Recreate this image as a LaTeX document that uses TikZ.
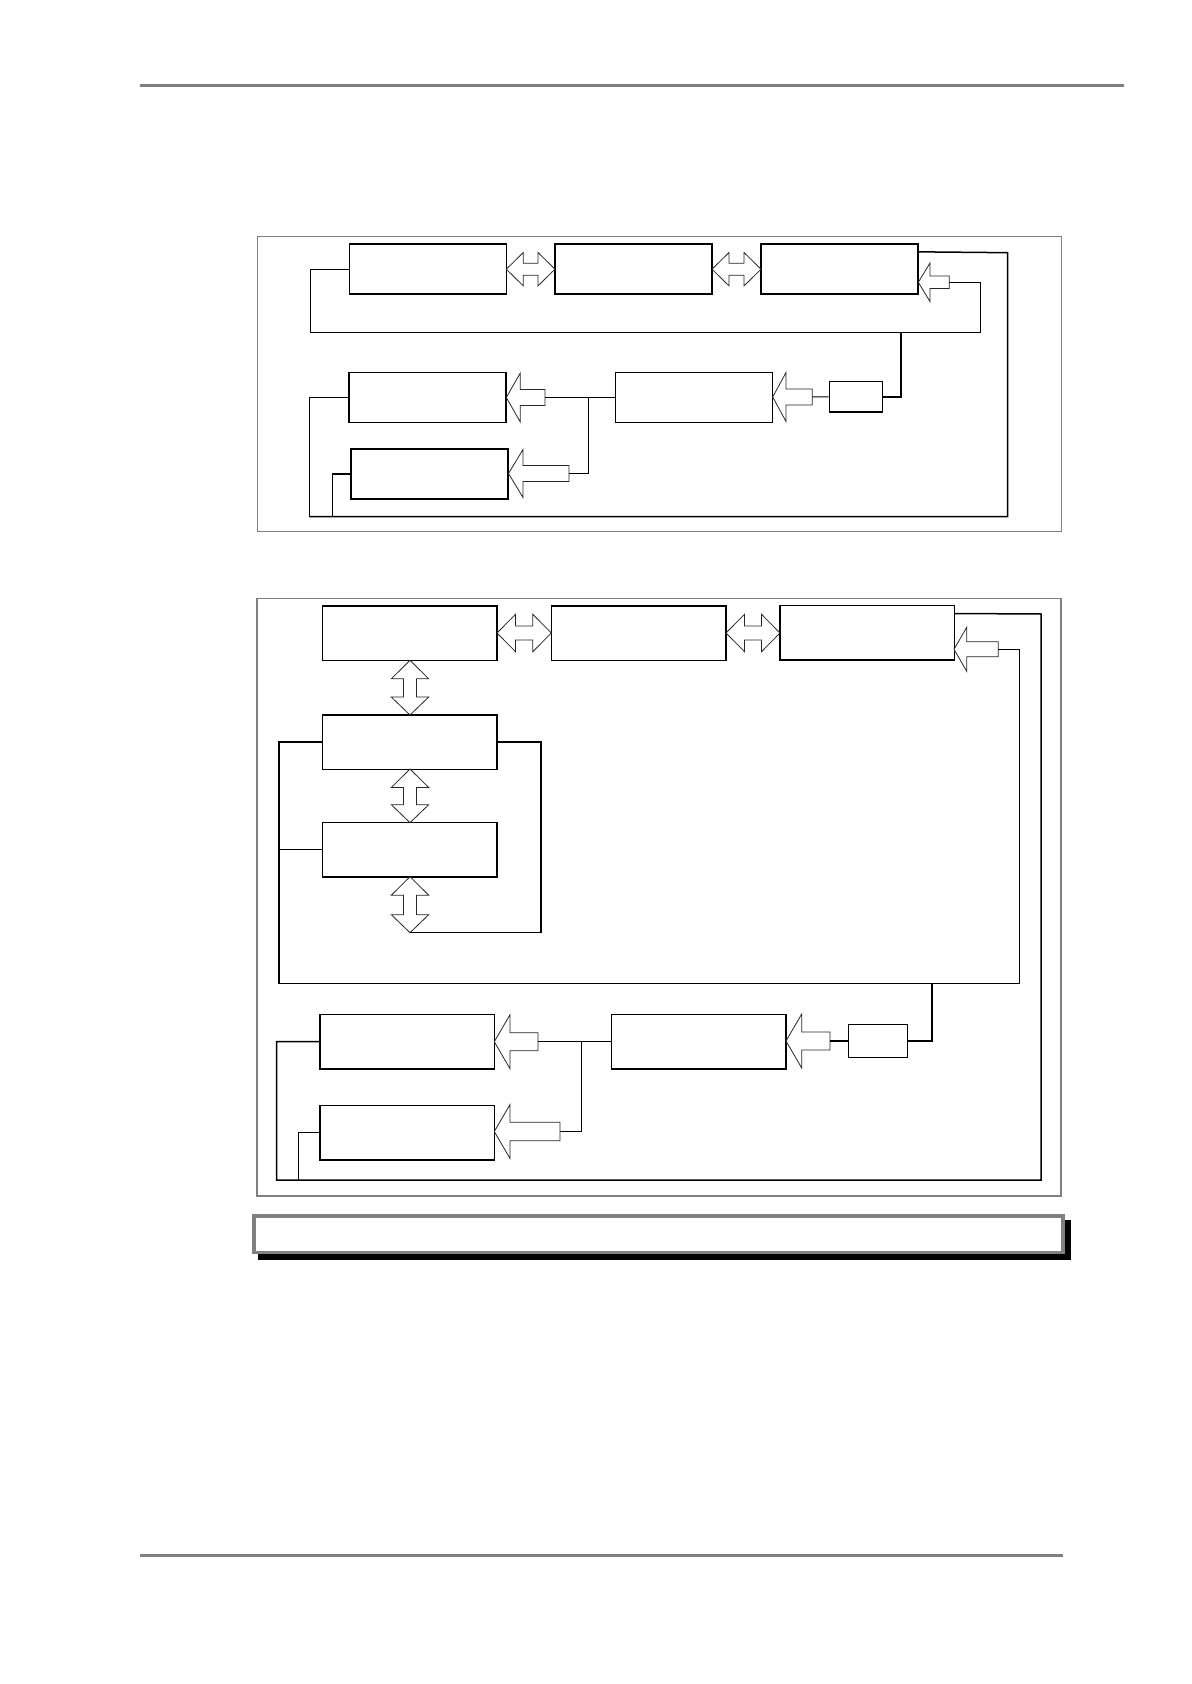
\documentclass[tikz,border=0pt]{standalone}
\tikzset{
  blk/.style={draw, line width=.75pt, fill=white, inner sep=0pt, minimum width=78.5pt, minimum height=25pt},
  wblk/.style={blk, minimum width=87.25pt, minimum height=27.25pt},
  sblk/.style={blk, minimum width=26.5pt, minimum height=15.2pt},
  wire/.style={line width=.75pt},
  thinwire/.style={line width=.5pt},
  fatarrow/.style={draw=black!85, line width=.4pt, fill=white},
  frame/.style={draw=gray, line width=.6pt},
}
\begin{document}
\begin{tikzpicture}[x=0.5pt, y=-0.5pt, line join=miter]
\useasboundingbox (0,0) rectangle (1191,1684);
% page rules
\draw[gray, line width=1.25pt] (140,85.5) -- (1124,85.5);
\draw[gray, line width=1.25pt] (140,1555.3) -- (1063,1555.3);

% upper diagram
\draw[frame] (257.3,236.7) rectangle (1061.7,531.7);
\node[blk] (ua) at (427.8,269.2) {};
\node[blk] (ub) at (633.5,269.2) {};
\node[blk] (uc) at (839.7,269.2) {};
\node[blk] (ud) at (427.5,397.5) {};
\node[blk] (ue) at (429.4,474.2) {};
\node[blk, line width=.5pt] (uf) at (694.2,397.5) {};
\node[sblk] (ug) at (855.8,396.9) {};

% lower diagram
\draw[frame] (257,598.3) rectangle (1061,1196);
\node[wblk] (la) at (409.9,633) {};
\node[wblk] (lb) at (638.7,633) {};
\node[wblk] (lf) at (867,632.9) {};
\node[wblk] (lc) at (409.9,742) {};
\node[wblk] (ld) at (409.9,849.7) {};
\node[wblk] (le) at (407,1041.7) {};
\node[wblk] (lh) at (407,1132.7) {};
\node[wblk] (lg) at (698.9,1041.7) {};
\node[sblk, minimum width=29.3pt, minimum height=16.3pt] (ls) at (878,1041) {};

% block arrows pointing left: tip x/y, head length, tail length, head, shaft, name
\foreach \x/\y/\b/\t/\h/\s/\n in {506.3/397.5/14/38.7/24.5/8/ta1, 508.5/473.5/14.5/60.5/24/8/ta2,
    772.7/397/13.3/39.6/24.5/8/ta3, 918.3/282.3/11.7/31/19.3/6.3/ta4,
    954/649.3/12.7/44.3/22/7.5/tb1, 494.3/1041.7/15.7/43.7/27/9/tb2,
    494.3/1131.5/15.7/65.7/27/9.3/tb3, 786/1041/15.7/44/27/9/tb4}
  {\draw[fatarrow] (\x,\y) -- ({\x+\b},{\y-\h}) -- ({\x+\b},{\y-\s}) -- ({\x+\t},{\y-\s})
     -- ({\x+\t},{\y+\s}) -- ({\x+\b},{\y+\s}) -- ({\x+\b},{\y+\h}) -- cycle;
   \coordinate (\n) at ({\x+\t},\y);}

% double arrows, horizontal
\foreach \l/\r/\y/\hl/\h/\s in {506.3/555/269.2/17/16.7/6, 712/761/269.2/17/16.7/6,
    497/551.3/633/18.5/18.7/7, 726/780/633/18.5/18.7/7}
  \draw[fatarrow] (\l,\y) -- ({\l+\hl},{\y-\h}) -- ({\l+\hl},{\y-\s}) -- ({\r-\hl},{\y-\s})
     -- ({\r-\hl},{\y-\h}) -- (\r,\y) -- ({\r-\hl},{\y+\h}) -- ({\r-\hl},{\y+\s})
     -- ({\l+\hl},{\y+\s}) -- ({\l+\hl},{\y+\h}) -- cycle;
% double arrows, vertical
\foreach \tp/\bt in {660.3/715, 769/822.7, 876.7/932.7}
  \draw[fatarrow] (410,\tp) -- (428.7,{\tp+18.5}) -- (416.5,{\tp+18.5}) -- (416.5,{\bt-18})
     -- (428.7,{\bt-18}) -- (410,\bt) -- (391.3,{\bt-18}) -- (403.5,{\bt-18})
     -- (403.5,{\tp+18.5}) -- (391.3,{\tp+18.5}) -- cycle;
\coordinate (vt) at (410,932.7);

% upper connectors
\draw[thinwire] (ua.west) -- (310.3,269.2) -- (310.3,332.3) -- (980,332.3) -- (980,282.3) -- (ta4);
\draw[wire] ([yshift=-4.2pt]uc.north east) -- (1007.7,252.7) -- (1007.7,516.7) -- (309.3,516.7);
\draw[thinwire] (309.3,516.7) -- (309.3,397.5) -- (ud.west);
\draw[wire] (332.7,516.7) -- (332.7,474.2) -- (ue.west);
\draw[wire] (901,332.3) -- (901,396.9) -- (ug.east);
\draw[thinwire] (ug.west) -- (ta3);
\draw[wire] (uf.west) -- (ta1);
\draw[wire] (588.3,397.5) -- (588.3,473.5) -- (ta2);

% lower connectors
\draw[wire] ([yshift=-4.3pt]lf.north east) -- (1041,614) -- (1041,1180) -- (276.7,1180)
  -- (276.7,1041.7) -- (le.west);
\draw[thinwire] (298.3,1180) -- (298.3,1132.7) -- (lh.west);
\draw[wire] (tb1) -- (1019.3,649.3) -- (1019.3,983.7) -- (279,983.7) -- (279,742) -- (lc.west);
\draw[wire] (279,849.7) -- (ld.west);
\draw[wire] (lc.east) -- (541,742) -- (541,932.7);
\draw[thinwire] (541,932.7) -- (vt);
\draw[wire] (932,983.7) -- (932,1041) -- (ls.east);
\draw[wire] (ls.west) -- (tb4);
\draw[wire] (lg.west) -- (tb2);
\draw[thinwire] (581.3,1041.7) -- (581.3,1131.5) -- (tb3);

% caption box
\fill (258,1220) rectangle (1070.7,1260);
\draw[gray, line width=1.75pt, fill=white] (254,1216) rectangle (1063,1252.5);
\end{tikzpicture}
\end{document}
